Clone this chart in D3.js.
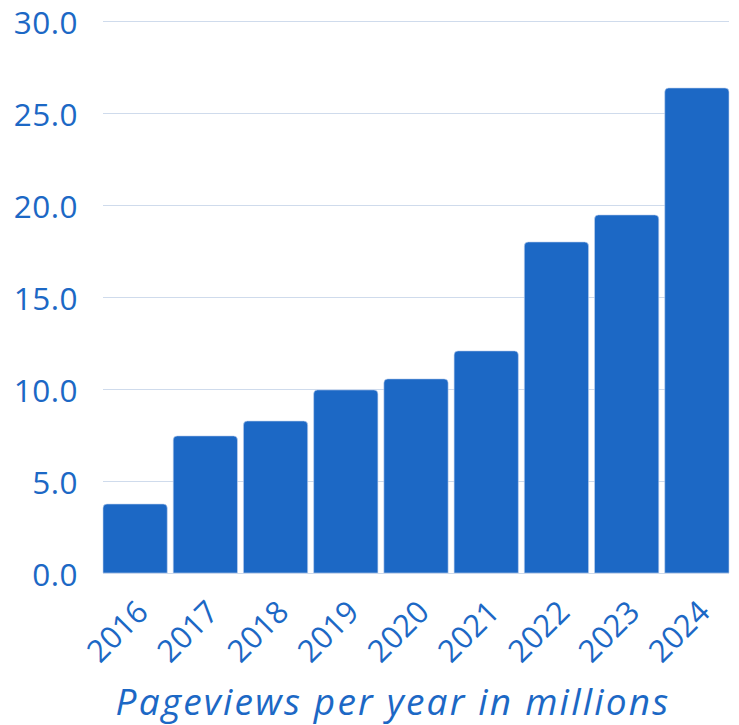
<!DOCTYPE html>
<html>
<head>
<meta charset="utf-8">
<script src="https://cdn.jsdelivr.net/npm/d3@7"></script>
<style>
  body { margin: 0; background: #fff; }
  text { font-family: "Open Sans", sans-serif; font-weight: 500; fill: #1c68c5; }
</style>
</head>
<body>
<svg id="chart"></svg>
<script>
// pageviews per year, millions
const years = ['2016', '2017', '2018', '2019', '2020', '2021', '2022', '2023', '2024'];
const pageviews = [3.75, 7.45, 8.26, 9.95, 10.55, 12.07, 17.99, 19.46, 26.36];
const yTicks = [0, 5, 10, 15, 20, 25, 30];

const WIDTH = 739, HEIGHT = 725;
const margin = {top: 21, right: 10, bottom: 152, left: 103};
const BLUE = '#1c68c5';

const svg = d3.select('#chart')
    .attr('width', WIDTH)
    .attr('height', HEIGHT);

const x = d3.scaleBand()
    .domain(years)
    .range([margin.left, WIDTH - margin.right])
    .paddingInner(0.085)
    .paddingOuter(0);

const y = d3.scaleLinear()
    .domain([0, 30])
    .range([HEIGHT - margin.bottom, margin.top]);

// grid lines
svg.append('g')
    .selectAll('line')
    .data(yTicks)
    .join('line')
    .attr('x1', margin.left)
    .attr('x2', WIDTH - margin.right)
    .attr('y1', d => y(d) + 0.5)
    .attr('y2', d => y(d) + 0.5)
    .attr('stroke', '#cfdbec')
    .attr('stroke-width', 1);

// y labels
svg.append('g')
    .selectAll('text')
    .data(yTicks)
    .join('text')
    .attr('x', 78)
    .attr('y', d => y(d) + 12.5)
    .attr('text-anchor', 'end')
    .attr('font-size', 31.5)
    .attr('font-weight', 600)
    .attr('letter-spacing', 0.5)
    .text(d => d.toFixed(1));

// bars with rounded top corners
const R = 4;
function barPath(x0, w, yTop, yBase) {
    return `M${x0},${yBase}V${yTop + R}Q${x0},${yTop} ${x0 + R},${yTop}` +
        `H${x0 + w - R}Q${x0 + w},${yTop} ${x0 + w},${yTop + R}V${yBase}Z`;
}

svg.append('g')
    .selectAll('path')
    .data(years)
    .join('path')
    .attr('d', (d, i) => barPath(x(d), x.bandwidth(), y(pageviews[i]), y(0)))
    .attr('fill', BLUE)
    .attr('stroke', '#c3d3ee')
    .attr('stroke-width', 0.6);

// x labels rotated
svg.append('g')
    .selectAll('text')
    .data(years)
    .join('text')
    .attr('text-anchor', 'end')
    .attr('font-size', 31)
    .attr('font-weight', 600)
    .attr('transform', d => `translate(${x(d) + x.bandwidth() / 2 + 15},${y(0) + 41}) rotate(-45)`)
    .text(d => d);

// caption
svg.append('text')
    .attr('x', 393)
    .attr('y', 715)
    .attr('text-anchor', 'middle')
    .attr('font-size', 37)
    .attr('font-style', 'italic')
    .attr('letter-spacing', 2.2)
    .text('Pageviews per year in millions');
</script>
</body>
</html>
